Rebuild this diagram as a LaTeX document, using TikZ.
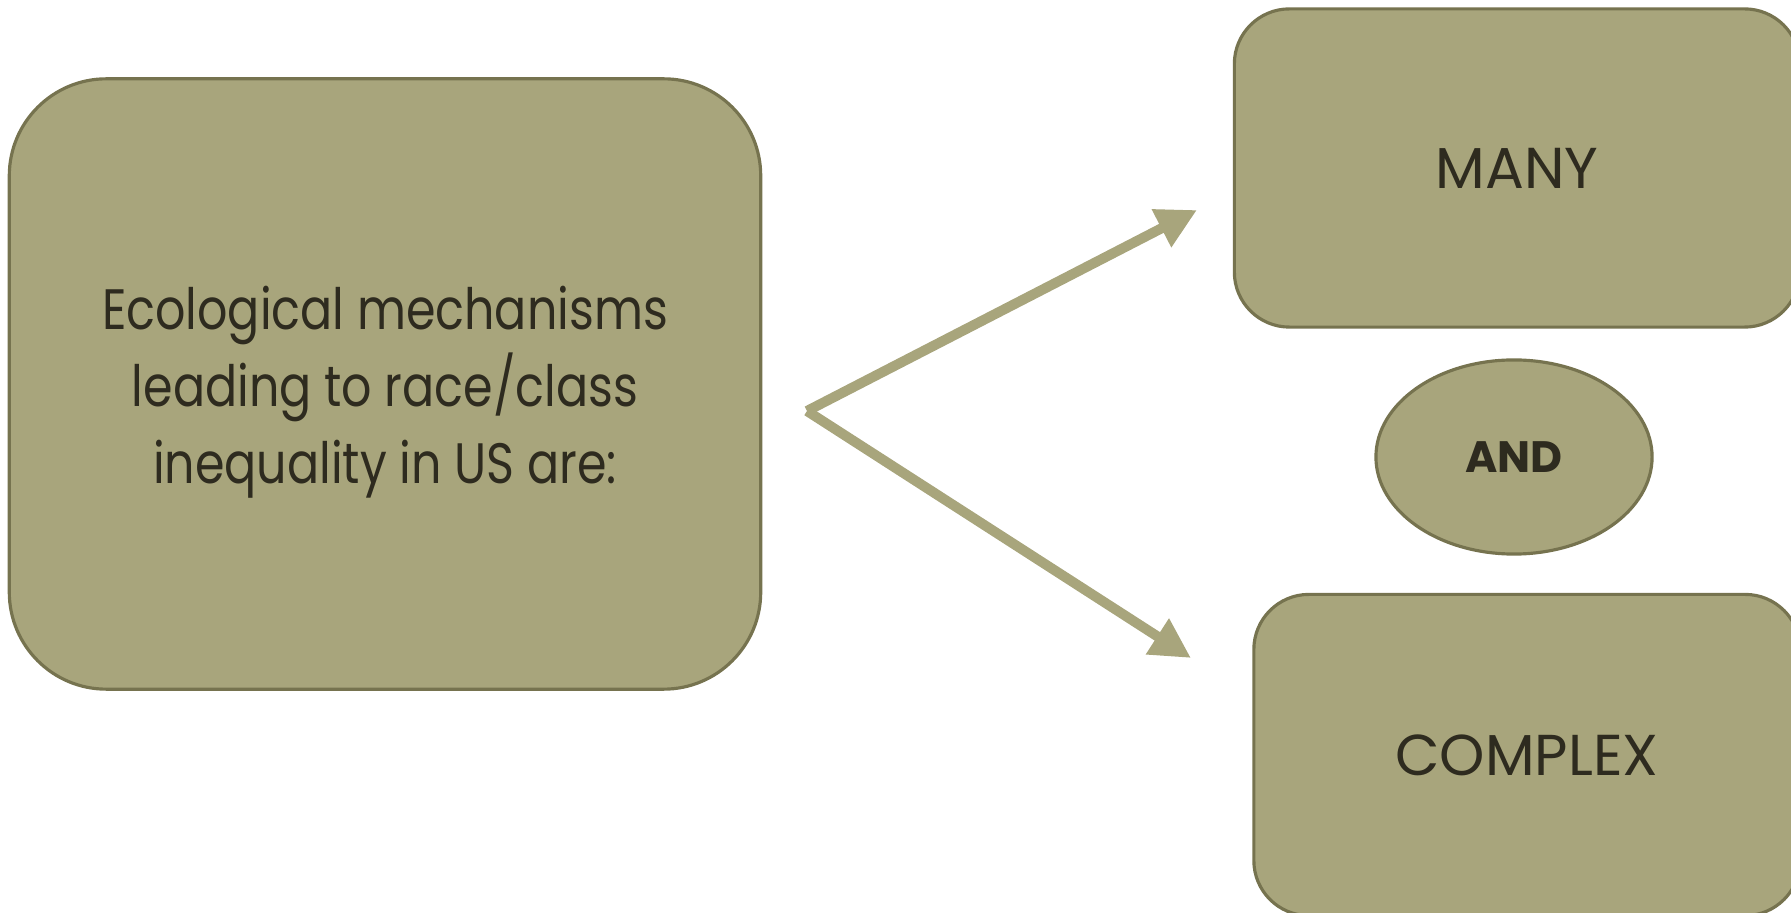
\documentclass[tikz,border=0pt]{standalone}
\usepackage{fontspec}
\setmainfont{Poppins}
\newfontfamily\narrowfont{Poppins}[FakeStretch=0.835]
\usetikzlibrary{shapes.geometric,arrows.meta,positioning}
\definecolor{khaki}{HTML}{A8A57C}
\definecolor{khakiedge}{HTML}{76734F}
\definecolor{inkdark}{HTML}{2E2B1F}

\begin{document}
\begin{tikzpicture}[x=0.01cm,y=-0.01cm]
    % `panel' is the olive box shape, `arrowline' the thick olive arrows.
    \tikzstyle{panel} = [draw=khakiedge,fill=khaki,line width=0.9pt,text=inkdark,align=center,inner sep=0pt]
    \tikzstyle{caption} = [font=\fontsize{16.4}{21.9}\selectfont]
    \tikzstyle{arrowline} = [draw=khaki,line width=0.1cm,-{Triangle[length=0.4cm,width=0.4cm]}]
    %
    \useasboundingbox (0,0) rectangle (1791,913);
    \clip (0,0) rectangle (1791,913);

    \node[panel,rounded corners=0.97cm,minimum width=7.51cm,minimum height=6.10cm,
      label={[text=inkdark,align=center,yshift=-0.08cm,font=\narrowfont\fontsize{16.2}{21.9}\selectfont]center:Ecological mechanisms\\leading to race/class\\inequality in US are:}] (mech) at (385,384) {};
    \node[panel,caption,rounded corners=0.55cm,minimum width=5.65cm,minimum height=3.18cm] (many) at (1517,168) {MANY};
    \node[panel,ellipse,font=\fontsize{12.5}{15}\selectfont\bfseries,minimum width=2.76cm,minimum height=1.94cm] (conj) at (1514,457) {AND};
    \node[panel,caption,rounded corners=0.55cm,minimum width=5.46cm,minimum height=3.21cm] (complex) at (1527,755) {COMPLEX};

    \coordinate (fork) at (807,411);
    \coordinate (tipmany) at (1197,210);
    \coordinate (tipcomplex) at (1191,658);
    \draw[arrowline] (fork) -- (tipmany);
    \draw[arrowline] (fork) -- (tipcomplex);
\end{tikzpicture}
\end{document}
